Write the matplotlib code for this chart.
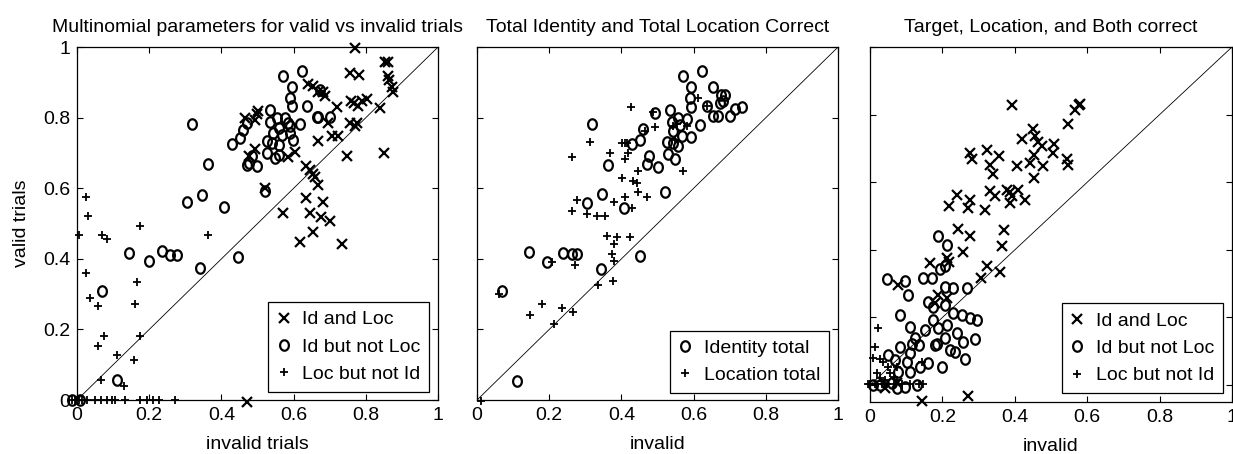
import numpy as np
import matplotlib.pyplot as plt
from matplotlib.path import Path

plt.rcParams['font.family'] = ['Liberation Sans', 'DejaVu Sans']

# ---- panel 1: multinomial parameters, valid vs invalid ----
p1_both_x = [0.770, 0.853, 0.862, 0.756, 0.782, 0.862, 0.865, 0.871, 0.874, 0.802,
             0.788, 0.839, 0.760, 0.767, 0.779, 0.719, 0.756, 0.776, 0.770, 0.696,
             0.705, 0.724, 0.668, 0.747, 0.850, 0.641, 0.654, 0.668, 0.682, 0.687,
             0.585, 0.604, 0.634, 0.645, 0.654, 0.659, 0.668, 0.634, 0.682, 0.571,
             0.645, 0.677, 0.700, 0.618, 0.654, 0.733, 0.465, 0.498, 0.493, 0.502,
             0.493, 0.475, 0.521, 0.470]
p1_both_y = [0.997, 0.959, 0.959, 0.926, 0.922, 0.919, 0.907, 0.887, 0.874, 0.853,
             0.846, 0.827, 0.846, 0.841, 0.834, 0.830, 0.786, 0.784, 0.775, 0.786,
             0.747, 0.747, 0.735, 0.692, 0.699, 0.896, 0.891, 0.874, 0.872, 0.860,
             0.688, 0.702, 0.664, 0.652, 0.641, 0.631, 0.610, 0.572, 0.562, 0.531,
             0.529, 0.518, 0.506, 0.447, 0.477, 0.442, 0.799, 0.811, 0.794, 0.818,
             0.711, 0.690, 0.600, -0.007]

p1_id_x = [0.571, 0.622, 0.594, 0.590, 0.594, 0.636, 0.618, 0.535, 0.535, 0.553,
           0.576, 0.585, 0.558, 0.544, 0.567, 0.590, 0.539, 0.558, 0.525, 0.525,
           0.548, 0.558, 0.484, 0.475, 0.498, 0.470, 0.452, 0.461, 0.470, 0.429,
           0.318, 0.364, 0.346, 0.304, 0.406, 0.143, 0.198, 0.235, 0.258, 0.276,
           0.341, 0.447, 0.069, 0.111, 0.521, 0.664, 0.668, 0.700, 0.590, 0.599,
           0.673, -0.014, 0.009]
p1_id_y = [0.917, 0.931, 0.887, 0.855, 0.832, 0.834, 0.783, 0.822, 0.789, 0.799,
           0.799, 0.784, 0.770, 0.756, 0.751, 0.756, 0.728, 0.723, 0.733, 0.699,
           0.685, 0.695, 0.690, 0.671, 0.664, 0.666, 0.742, 0.766, 0.784, 0.726,
           0.783, 0.669, 0.581, 0.560, 0.546, 0.416, 0.394, 0.421, 0.411, 0.411,
           0.373, 0.406, 0.310, 0.057, 0.591, 0.803, 0.803, 0.803, 0.775, 0.737,
           0.879, 0.0, 0.0]

p1_loc_x = [0.026, 0.029, 0.005, 0.069, 0.083, 0.175, 0.364, 0.026, 0.037, 0.057,
            0.166, 0.161, 0.074, 0.173, 0.057, 0.111, 0.157, 0.065, 0.131,
            -0.014, -0.005, 0.005, 0.014, 0.028, 0.051, 0.065, 0.083, 0.097, 0.106,
            0.134, 0.175, 0.194, 0.211, 0.227, 0.271]
p1_loc_y = [0.574, 0.522, 0.468, 0.468, 0.457, 0.493, 0.468, 0.359, 0.290, 0.265,
            0.333, 0.272, 0.181, 0.180, 0.153, 0.128, 0.112, 0.057, 0.040,
            0.0, 0.0, 0.0, 0.0, 0.0, 0.0, 0.0, 0.0, 0.0, 0.0,
            0.0, 0.0, 0.0, 0.0, 0.0, 0.0]

# ---- panel 2: identity total and location total ----
p2_id_x = [0.622, 0.571, 0.594, 0.654, 0.677, 0.687, 0.590, 0.673, 0.682, 0.594,
           0.636, 0.535, 0.493, 0.733, 0.714, 0.700, 0.654, 0.668, 0.618, 0.558,
           0.581, 0.539, 0.562, 0.544, 0.594, 0.567, 0.525, 0.544, 0.558, 0.461,
           0.452, 0.429, 0.475, 0.530, 0.548, 0.470, 0.502, 0.364, 0.318, 0.346,
           0.521, 0.304, 0.406, 0.143, 0.194, 0.238, 0.263, 0.276, 0.450, 0.344,
           0.069, 0.112]
p2_id_y = [0.931, 0.917, 0.887, 0.887, 0.865, 0.865, 0.856, 0.842, 0.847, 0.831,
           0.834, 0.821, 0.814, 0.831, 0.825, 0.804, 0.806, 0.806, 0.778, 0.800,
           0.797, 0.787, 0.778, 0.762, 0.746, 0.748, 0.731, 0.727, 0.720, 0.767,
           0.738, 0.726, 0.691, 0.696, 0.684, 0.668, 0.661, 0.666, 0.783, 0.583,
           0.588, 0.558, 0.543, 0.419, 0.392, 0.417, 0.414, 0.414, 0.409, 0.370,
           0.310, 0.054]

p2_loc_x = [0.427, 0.488, 0.493, 0.465, 0.313, 0.401, 0.410, 0.369, 0.419, 0.263,
            0.410, 0.447, 0.571, 0.401, 0.433, 0.442, 0.447, 0.470, 0.410, 0.276,
            0.378, 0.429, 0.263, 0.304, 0.332, 0.355, 0.359, 0.387, 0.424, 0.378,
            0.373, 0.378, 0.272, 0.207, 0.336, 0.376, 0.060, 0.180, 0.235, 0.267,
            0.146, 0.212, 0.011, 0.544, 0.553, 0.613, 0.636, 0.415, 0.581, 0.548]
p2_loc_y = [0.831, 0.816, 0.774, 0.762, 0.731, 0.729, 0.727, 0.701, 0.701, 0.689,
            0.684, 0.649, 0.649, 0.630, 0.621, 0.616, 0.588, 0.574, 0.574, 0.567,
            0.562, 0.543, 0.536, 0.527, 0.522, 0.522, 0.466, 0.461, 0.461, 0.442,
            0.414, 0.395, 0.383, 0.392, 0.325, 0.336, 0.301, 0.273, 0.261, 0.249,
            0.242, 0.214, -0.003, 0.776, 0.781, 0.856, 0.833, 0.729, 0.776, 0.738]

# ---- panel 3: target, location and both correct ----
p3_both_x = [0.392, 0.567, 0.576, 0.579, 0.548, 0.450, 0.419, 0.456, 0.465, 0.475,
             0.507, 0.505, 0.276, 0.281, 0.323, 0.355, 0.332, 0.339, 0.406, 0.442,
             0.452, 0.479, 0.453, 0.544, 0.546, 0.240, 0.217, 0.276, 0.272, 0.318,
             0.332, 0.346, 0.378, 0.387, 0.387, 0.392, 0.410, 0.429, 0.244, 0.276,
             0.258, 0.369, 0.364, 0.166, 0.212, 0.217, 0.323, 0.306, 0.358, 0.078,
             0.189, 0.180, 0.212, 0.143, 0.272, 0.041, 0.074]
p3_both_y = [0.827, 0.815, 0.827, 0.830, 0.773, 0.756, 0.728, 0.736, 0.718, 0.706,
             0.714, 0.686, 0.686, 0.669, 0.696, 0.679, 0.652, 0.625, 0.647, 0.657,
             0.681, 0.647, 0.612, 0.669, 0.652, 0.563, 0.530, 0.548, 0.523, 0.517,
             0.573, 0.560, 0.578, 0.570, 0.538, 0.558, 0.578, 0.548, 0.461, 0.440,
             0.395, 0.459, 0.410, 0.360, 0.375, 0.365, 0.351, 0.316, 0.336, 0.296,
             0.267, 0.242, 0.257, -0.047, -0.033, -0.010, 0.005]

p3_id_x = [0.189, 0.214, 0.194, 0.207, 0.046, 0.097, 0.106, 0.147, 0.171, 0.207,
           0.230, 0.267, 0.161, 0.175, 0.207, 0.230, 0.083, 0.111, 0.124, 0.152,
           0.175, 0.189, 0.212, 0.253, 0.276, 0.295, 0.240, 0.258, 0.263, 0.290,
           0.221, 0.235, 0.198, 0.161, 0.138, 0.111, 0.101, 0.083, 0.115, 0.134,
           0.180, 0.207, 0.051, 0.069, 0.097, 0.129, 0.028, 0.060, 0.074, 0.009,
           0.184, 0.078, 0.111]
p3_id_y = [0.441, 0.415, 0.343, 0.351, 0.313, 0.309, 0.267, 0.318, 0.318, 0.289,
           0.286, 0.286, 0.247, 0.232, 0.237, 0.212, 0.207, 0.173, 0.138, 0.163,
           0.193, 0.168, 0.178, 0.207, 0.198, 0.193, 0.153, 0.128, 0.076, 0.135,
           0.104, 0.099, 0.054, 0.064, 0.054, 0.040, 0.069, 0.114, 0.123, 0.119,
           0.119, 0.138, 0.089, 0.074, -0.005, 0.0, 0.0, 0.005, -0.010, 0.0,
           0.123, 0.040, 0.094]

p3_loc_x = [0.023, 0.014, 0.009, 0.028, 0.037, 0.051, 0.065, 0.074, 0.018, 0.028,
            0.143, 0.055, 0.074, 0.041,
            -0.005, 0.0, 0.014, 0.032, 0.046, 0.065, 0.088, 0.111, 0.134, 0.147]
p3_loc_y = [0.170, 0.112, 0.079, 0.076, 0.069, 0.054, 0.025, 0.015, 0.035, 0.020,
            0.069, 0.035, 0.054, 0.015,
            0.003, 0.003, 0.003, 0.003, 0.003, 0.003, 0.003, 0.003, 0.003, 0.003]

ticks = [0, 0.2, 0.4, 0.6, 0.8, 1]
tick_labels = ['0', '0.2', '0.4', '0.6', '0.8', '1']

# slightly tall ellipse, like the MATLAB 'o' glyph
t = np.linspace(0, 2 * np.pi, 64)
oval = Path(np.column_stack([0.42 * np.cos(t), 0.5 * np.sin(t)]), closed=True)

FS = 14
sty_x = dict(ls='none', marker='x', ms=7, mew=1.6, color='k')
sty_o = dict(ls='none', marker=oval, ms=7.5, mew=1.6, mfc='none', mec='k')
sty_p = dict(ls='none', marker='+', ms=6, mew=1.3, color='k')


def setup(ax, ylim, title, xlabel, ylabel=None):
    ax.plot([0, 1], [0, 1], color='k', lw=0.6, zorder=1)
    ax.set_xlim(0, 1)
    ax.set_ylim(*ylim)
    ax.set_xticks(ticks)
    ax.set_xticklabels(tick_labels)
    ax.set_yticks(ticks)
    if ylabel:
        ax.set_yticklabels(tick_labels)
        ax.set_ylabel(ylabel, fontsize=FS, labelpad=9)
    else:
        ax.set_yticklabels([])
    ax.tick_params(direction='in', length=4, width=0.8, top=True, right=True,
                   labelsize=FS, pad=5)
    ax.set_title(title, fontsize=FS, pad=11)
    ax.set_xlabel(xlabel, fontsize=FS, labelpad=9)
    for s in ax.spines.values():
        s.set_linewidth(0.9)


def legend(ax, handles, labels, bottom):
    lg = ax.legend(handles, labels, loc='lower right',
                   bbox_to_anchor=(0.975, bottom), fontsize=FS, frameon=True,
                   fancybox=False, edgecolor='k', framealpha=1,
                   handlelength=0.7, handletextpad=0.6, labelspacing=0.5,
                   borderpad=0.45, borderaxespad=0)
    lg.get_frame().set_linewidth(0.9)


fig = plt.figure(figsize=(12.33, 4.54), dpi=100)

ax1 = fig.add_axes([0.0625, 0.1189, 0.2928, 0.7775])
setup(ax1, (0, 1), 'Multinomial parameters for valid vs invalid trials',
      'invalid trials', 'valid trials')
h1, = ax1.plot(p1_both_x, p1_both_y, clip_on=False, **sty_x)
h2, = ax1.plot(p1_id_x, p1_id_y, clip_on=False, **sty_o)
h3, = ax1.plot(p1_loc_x, p1_loc_y, clip_on=False, **sty_p)
legend(ax1, [h1, h2, h3], ['Id and Loc', 'Id but not Loc', 'Loc but not Id'], 0.023)

ax2 = fig.add_axes([0.3869, 0.1189, 0.2928, 0.7775])
setup(ax2, (0, 1), 'Total Identity and Total Location Correct', 'invalid')
g1, = ax2.plot(p2_id_x, p2_id_y, clip_on=False, **sty_o)
g2, = ax2.plot(p2_loc_x, p2_loc_y, clip_on=False, **sty_p)
legend(ax2, [g1, g2], ['Identity total', 'Location total'], 0.02)

ax3 = fig.add_axes([0.7056, 0.1145, 0.2936, 0.782])
setup(ax3, (-0.05, 1), 'Target, Location, and Both correct', 'invalid')
k1, = ax3.plot(p3_both_x, p3_both_y, clip_on=False, **sty_x)
k2, = ax3.plot(p3_id_x, p3_id_y, clip_on=False, **sty_o)
k3, = ax3.plot(p3_loc_x, p3_loc_y, clip_on=False, **sty_p)
legend(ax3, [k1, k2, k3], ['Id and Loc', 'Id but not Loc', 'Loc but not Id'], 0.025)

fig.savefig('out.png', dpi=100)
